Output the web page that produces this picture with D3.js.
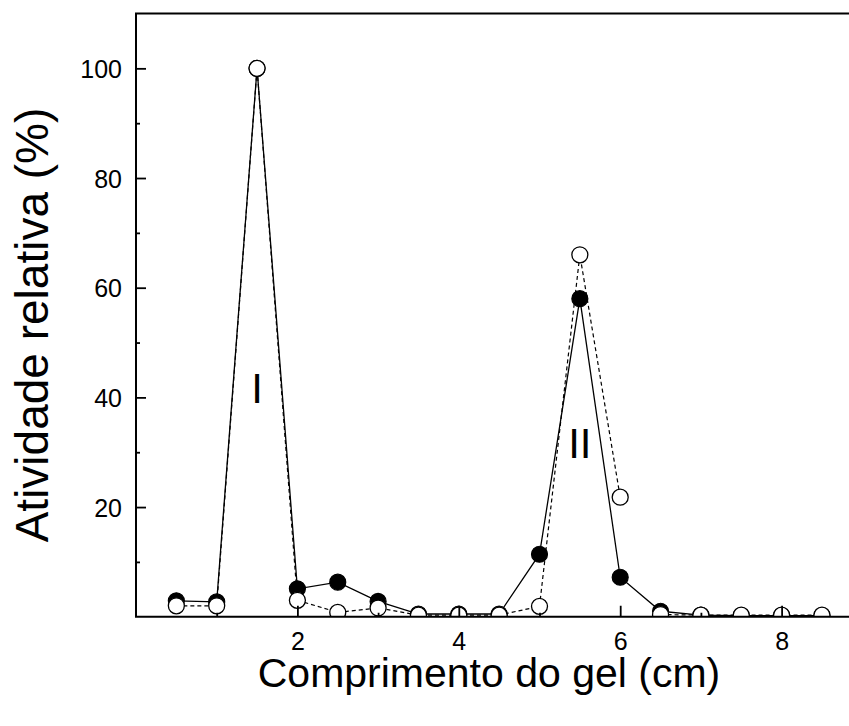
<!DOCTYPE html>
<html>
<head>
<meta charset="utf-8">
<script src="https://cdn.jsdelivr.net/npm/d3@7"></script>
<style>
  html, body { margin: 0; padding: 0; background: #fff; }
  svg { display: block; font-family: "Liberation Sans", Arial, sans-serif; }
</style>
</head>
<body>
<svg id="chart" width="849" height="726"></svg>
<script>
// Gel position (cm) of each fraction
const position = [0.5, 1, 1.5, 2, 2.5, 3, 3.5, 4, 4.5, 5, 5.5, 6, 6.5, 7, 7.5, 8, 8.5];
// Relative activity (%) — filled markers, solid line
const activityFilled = [2.9, 2.7, 100, 5.1, 6.3, 2.8, 0.5, 0.5, 0.5, 11.4, 58, 7.2, 1.0, 0.3, 0.2, 0.2, 0.2];
// Relative activity (%) — open markers, dashed line
const activityOpen = [2.0, 2.0, 100, 3.0, 0.8, 1.6, 0.3, 0.3, 0.3, 1.9, 66, 21.8, 0.4, 0.3, 0.3, 0.3, 0.3];
// The dashed trace is broken after this fraction index
const openBreakAfter = 11;

const xMajor = [2, 4, 6, 8];
const xMinor = [1, 3, 5, 7];
const yMajor = [20, 40, 60, 80, 100];
const yMinor = [10, 30, 50, 70, 90];
const peakLabels = [{ text: "I", x: 1.5, y: 39 }, { text: "II", x: 5.5, y: 29 }];

const svg = d3.select("#chart");
const plotLeft = 136, plotTop = 13.5, plotBottom = 616.75;

const x = d3.scaleLinear().domain([0, 9]).range([plotLeft, plotLeft + 9 * 80.7]);
const y = d3.scaleLinear().domain([0, 110]).range([plotBottom, plotTop]);

svg.append("defs").append("clipPath").attr("id", "plot")
  .append("rect").attr("x", plotLeft).attr("y", plotTop)
  .attr("width", 849 - plotLeft).attr("height", plotBottom - plotTop);

const plot = svg.append("g").attr("clip-path", "url(#plot)");

const line = d3.line().x(d => x(d[0])).y(d => y(d[1]));
const filledPts = position.map((p, i) => [p, activityFilled[i]]);
const openPts = position.map((p, i) => [p, activityOpen[i]]);

// dashed trace (open markers)
[openPts.slice(0, openBreakAfter + 1), openPts.slice(openBreakAfter + 1)].forEach(seg => {
  plot.append("path").datum(seg).attr("d", line)
    .attr("fill", "none").attr("stroke", "#000").attr("stroke-width", 1.2)
    .attr("stroke-dasharray", "4,3");
});
// solid trace (filled markers)
plot.append("path").datum(filledPts).attr("d", line)
  .attr("fill", "none").attr("stroke", "#000").attr("stroke-width", 1.3);

plot.selectAll("circle.filled").data(filledPts).join("circle")
  .attr("class", "filled")
  .attr("cx", d => x(d[0])).attr("cy", d => y(d[1])).attr("r", 8)
  .attr("fill", "#000").attr("stroke", "#000").attr("stroke-width", 1.2);

plot.selectAll("circle.open").data(openPts).join("circle")
  .attr("class", "open")
  .attr("cx", d => x(d[0])).attr("cy", d => y(d[1])).attr("r", 8)
  .attr("fill", "#fff").attr("stroke", "#000").attr("stroke-width", 1.3);

// axes: ticks point inward
const xAxis = svg.append("g").attr("transform", `translate(0,${plotBottom})`)
  .call(d3.axisBottom(x).tickValues(xMajor).tickSizeInner(-11).tickSizeOuter(0).tickPadding(15).tickFormat(d3.format("d")));
const xAxisMinor = svg.append("g").attr("transform", `translate(0,${plotBottom})`)
  .call(d3.axisBottom(x).tickValues(xMinor).tickSizeInner(-4).tickSizeOuter(0).tickFormat(""));
const yAxis = svg.append("g").attr("transform", `translate(${plotLeft},0)`)
  .call(d3.axisLeft(y).tickValues(yMajor).tickSizeInner(-10).tickSizeOuter(0).tickPadding(14).tickFormat(d3.format("d")));
const yAxisMinor = svg.append("g").attr("transform", `translate(${plotLeft},0)`)
  .call(d3.axisLeft(y).tickValues(yMinor).tickSizeInner(-4).tickSizeOuter(0).tickFormat(""));

[xAxis, xAxisMinor, yAxis, yAxisMinor].forEach(g => {
  g.select(".domain").remove();
  g.selectAll(".tick line").attr("stroke", "#000").attr("stroke-width", 1.8);
  g.selectAll(".tick text").attr("fill", "#000").style("font-size", "25px")
    .style("font-family", "'Liberation Sans', Arial, sans-serif");
});
yAxis.selectAll(".tick text").attr("dy", "0.36em");

// frame lines: left, bottom, top
svg.append("path")
  .attr("d", `M849,${plotTop}H${plotLeft}V${plotBottom}H849`)
  .attr("fill", "none").attr("stroke", "#000").attr("stroke-width", 2);

// peak labels
svg.selectAll("text.peak").data(peakLabels).join("text")
  .attr("class", "peak")
  .attr("x", d => x(d.x)).attr("y", d => y(d.y))
  .attr("text-anchor", "middle")
  .style("font-size", "42px").text(d => d.text);

// axis titles
svg.append("text").attr("x", 489).attr("y", 687)
  .attr("text-anchor", "middle").style("font-size", "41px")
  .text("Comprimento do gel (cm)");
svg.append("text").attr("transform", "translate(48,325) rotate(-90)")
  .attr("text-anchor", "middle").style("font-size", "46px")
  .text("Atividade relativa (%)");
</script>
</body>
</html>
